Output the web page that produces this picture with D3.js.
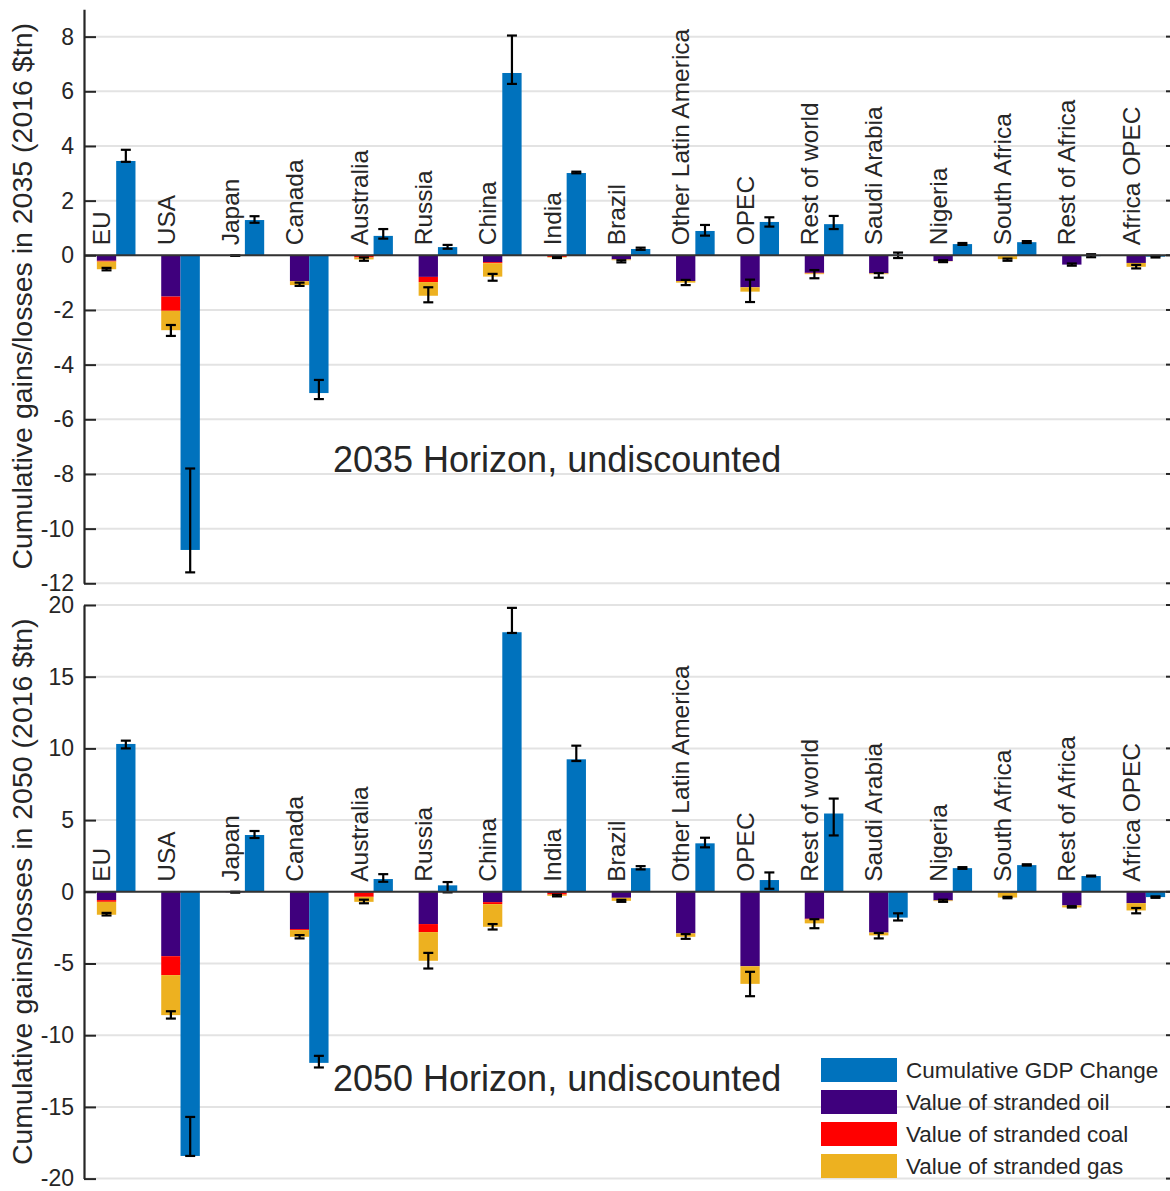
<!DOCTYPE html>
<html>
<head>
<meta charset="utf-8">
<script src="https://cdn.jsdelivr.net/npm/d3@7"></script>
<style>
  body { margin: 0; background: #fff; }
  svg { display: block; font-family: "Liberation Sans", Arial, Helvetica, sans-serif; }
</style>
</head>
<body>
<div id="chart"></div>
<script>
var categories = ["EU", "USA", "Japan", "Canada", "Australia", "Russia", "China", "India", "Brazil",
  "Other Latin America", "OPEC", "Rest of world", "Saudi Arabia", "Nigeria", "South Africa",
  "Rest of Africa", "Africa OPEC"]

// 2035 horizon ($tn, 2016)
var oil2035  = [-0.20, -1.51, -0.01, -0.94, -0.02, -0.79, -0.25, -0.02, -0.15, -0.94, -1.17, -0.64, -0.66, -0.21, -0.03, -0.34, -0.28]
var coal2035 = [-0.03, -0.52, 0, -0.01, -0.06, -0.19, -0.04, -0.04, 0, 0, 0, -0.02, 0, 0, 0, 0, 0]
var gas2035  = [-0.28, -0.71, 0, -0.14, -0.07, -0.50, -0.49, -0.02, -0.03, -0.06, -0.16, -0.03, -0.03, -0.01, -0.11, 0, -0.14]
var strandedLo2035 = [-0.46, -2.55, 0, -1.00, -0.08, -1.17, -0.68, -0.05, -0.18, -0.90, -0.89, -0.54, -0.65, -0.18, -0.12, -0.30, -0.35]
var strandedHi2035 = [-0.55, -2.95, -0.02, -1.12, -0.20, -1.72, -0.93, -0.10, -0.26, -1.09, -1.71, -0.84, -0.82, -0.25, -0.20, -0.38, -0.48]
var gdp2035   = [3.45, -10.78, 1.29, -5.04, 0.71, 0.30, 6.67, 3.01, 0.23, 0.89, 1.22, 1.14, 0.02, 0.41, 0.48, -0.03, -0.05]
var gdpLo2035 = [3.42, -7.80, 1.19, -4.56, 0.61, 0.24, 6.27, 3.00, 0.20, 0.72, 1.05, 0.96, -0.10, 0.38, 0.45, -0.07, -0.08]
var gdpHi2035 = [3.86, -11.60, 1.43, -5.26, 0.96, 0.38, 8.04, 3.06, 0.28, 1.11, 1.39, 1.44, 0.10, 0.45, 0.52, 0.04, -0.02]

// 2050 horizon
var oil2050  = [-0.58, -4.49, -0.03, -2.60, -0.05, -2.25, -0.72, -0.08, -0.42, -2.90, -5.19, -1.88, -2.84, -0.60, -0.05, -0.95, -0.79]
var coal2050 = [-0.12, -1.32, 0, -0.07, -0.30, -0.56, -0.14, -0.12, 0, 0, 0, -0.04, 0, 0, 0, 0, 0]
var gas2050  = [-0.90, -2.79, 0, -0.47, -0.35, -2.00, -1.58, -0.08, -0.21, -0.24, -1.23, -0.28, -0.20, -0.05, -0.35, -0.14, -0.51]
var strandedLo2050 = [-1.47, -8.33, 0, -3.02, -0.55, -4.26, -2.25, -0.20, -0.56, -2.95, -5.58, -1.91, -2.87, -0.55, -0.35, -1.00, -1.13]
var strandedHi2050 = [-1.65, -8.84, -0.06, -3.25, -0.80, -5.35, -2.63, -0.32, -0.70, -3.28, -7.28, -2.54, -3.25, -0.70, -0.45, -1.10, -1.50]
var gdp2050   = [10.31, -18.42, 3.96, -11.93, 0.89, 0.45, 18.10, 9.24, 1.65, 3.38, 0.82, 5.46, -1.80, 1.65, 1.86, 1.10, -0.37]
var gdpLo2050 = [10.00, -15.70, 3.75, -11.44, 0.70, -0.04, 18.05, 9.12, 1.56, 3.10, 0.21, 3.93, -1.50, 1.60, 1.83, 1.07, -0.32]
var gdpHi2050 = [10.54, -18.42, 4.24, -12.25, 1.23, 0.68, 19.80, 10.19, 1.79, 3.77, 1.35, 6.50, -2.00, 1.72, 1.92, 1.13, -0.42]

var ticks2035 = [-12, -10, -8, -6, -4, -2, 0, 2, 4, 6, 8]
var ticks2050 = [-20, -15, -10, -5, 0, 5, 10, 15, 20]

var seriesNames = ["Cumulative GDP Change", "Value of stranded oil", "Value of stranded coal", "Value of stranded gas"]
var colors = { gdp: "#0072bd", oil: "#3f007d", coal: "#ff0000", gas: "#edb120" }
var ink = "#262626"

var width = 1170, height = 1191
var svg = d3.select("#chart").append("svg")
  .attr("width", width)
  .attr("height", height)

svg.append("rect").attr("width", width).attr("height", height).attr("fill", "#fff")

var x = d3.scaleBand()
  .domain(categories)
  .range([84, 1178])
  .padding(0)

var barW = x.bandwidth() * 0.3

function panel(opts) {
  var y = d3.scaleLinear().domain(opts.domain).range(opts.range)
  var g = svg.append("g")
  var left = x.range()[0], right = x.range()[1]

  // grid
  g.append("g").selectAll("line")
    .data(opts.ticks)
    .join("line")
    .attr("x1", left).attr("x2", right)
    .attr("y1", function(d) { return y(d) }).attr("y2", function(d) { return y(d) })
    .attr("stroke", "#e3e3e3")
    .attr("stroke-width", 2)

  var rows = categories.map(function(c, i) {
    return { cat: c, oil: opts.oil[i], coal: opts.coal[i], gas: opts.gas[i] }
  })
  var stack = d3.stack().keys(["oil", "coal", "gas"]).offset(d3.stackOffsetDiverging)(rows)

  g.append("g").selectAll("g")
    .data(stack)
    .join("g")
    .attr("fill", function(s) { return colors[s.key] })
    .selectAll("rect")
    .data(function(s) { return s })
    .join("rect")
    .attr("x", function(d) { return x(d.data.cat) + x.bandwidth() / 2 - barW })
    .attr("width", barW)
    .attr("y", function(d) { return y(Math.max(d[0], d[1])) })
    .attr("height", function(d) { return Math.abs(y(d[0]) - y(d[1])) })

  g.append("g").selectAll("rect")
    .data(categories)
    .join("rect")
    .attr("fill", colors.gdp)
    .attr("x", function(c) { return x(c) + x.bandwidth() / 2 })
    .attr("width", barW)
    .attr("y", function(c, i) { return y(Math.max(0, opts.gdp[i])) })
    .attr("height", function(c, i) { return Math.abs(y(opts.gdp[i]) - y(0)) })

  // error bars
  var errs = []
  categories.forEach(function(c, i) {
    var cx = x(c) + x.bandwidth() / 2
    errs.push({ x: cx - barW / 2, lo: opts.strLo[i], hi: opts.strHi[i] })
    errs.push({ x: cx + barW / 2, lo: opts.gdpLo[i], hi: opts.gdpHi[i] })
  })
  var eb = g.append("g").attr("stroke", "#000").attr("stroke-width", 2.2)
    .selectAll("g").data(errs).join("g")
  eb.append("line")
    .attr("x1", function(d) { return d.x }).attr("x2", function(d) { return d.x })
    .attr("y1", function(d) { return y(d.lo) }).attr("y2", function(d) { return y(d.hi) })
  eb.append("line")
    .attr("x1", function(d) { return d.x - 5 }).attr("x2", function(d) { return d.x + 5 })
    .attr("y1", function(d) { return y(d.lo) }).attr("y2", function(d) { return y(d.lo) })
  eb.append("line")
    .attr("x1", function(d) { return d.x - 5 }).attr("x2", function(d) { return d.x + 5 })
    .attr("y1", function(d) { return y(d.hi) }).attr("y2", function(d) { return y(d.hi) })

  // zero line
  g.append("line")
    .attr("x1", left).attr("x2", right)
    .attr("y1", y(0)).attr("y2", y(0))
    .attr("stroke", "#333").attr("stroke-width", 2)

  // category labels
  g.append("g").selectAll("text")
    .data(categories)
    .join("text")
    .attr("transform", function(c) {
      return "translate(" + (x(c) + x.bandwidth() / 2 - 6) + "," + (y(0) - 10) + ") rotate(-90)"
    })
    .attr("font-size", 24.5)
    .attr("fill", ink)
    .text(function(c) { return c })

  // axes (plain hyphen minus like the original)
  var yl = d3.axisLeft(y).tickValues(opts.ticks).tickSize(0).tickPadding(10)
    .tickFormat(function(d) { return String(d) })
  var ax = g.append("g").attr("transform", "translate(" + left + ",0)").call(yl)
  ax.select(".domain").attr("stroke", ink).attr("stroke-width", 2.2)
  ax.selectAll("text").attr("font-size", 23).attr("fill", ink).attr("font-family", null)
  ax.selectAll(".tick").append("line")
    .attr("x2", 12).attr("stroke", ink).attr("stroke-width", 2)
  g.append("g").selectAll("line")
    .data(opts.ticks)
    .join("line")
    .attr("x1", right - 12).attr("x2", right)
    .attr("y1", function(d) { return y(d) }).attr("y2", function(d) { return y(d) })
    .attr("stroke", ink).attr("stroke-width", 2)

  g.append("text")
    .attr("transform", "translate(32," + (opts.range[0] + opts.range[1]) / 2 + ") rotate(-90)")
    .attr("text-anchor", "middle")
    .attr("font-size", 28.5)
    .attr("fill", ink)
    .text(opts.ylabel)

  g.append("text")
    .attr("x", 333)
    .attr("y", y(opts.titleAt))
    .attr("font-size", 36)
    .attr("fill", ink)
    .text(opts.title)

  return y
}

panel({
  domain: [-12, 9], range: [583.3, 9.3], ticks: ticks2035,
  oil: oil2035, coal: coal2035, gas: gas2035, strLo: strandedLo2035, strHi: strandedHi2035,
  gdp: gdp2035, gdpLo: gdpLo2035, gdpHi: gdpHi2035,
  ylabel: "Cumulative gains/losses in 2035 (2016 $tn)",
  title: "2035 Horizon, undiscounted", titleAt: -7.92
})

panel({
  domain: [-20, 20], range: [1178.6, 605], ticks: ticks2050,
  oil: oil2050, coal: coal2050, gas: gas2050, strLo: strandedLo2050, strHi: strandedHi2050,
  gdp: gdp2050, gdpLo: gdpLo2050, gdpHi: gdpHi2050,
  ylabel: "Cumulative gains/losses in 2050 (2016 $tn)",
  title: "2050 Horizon, undiscounted", titleAt: -13.9
})

// legend
var legendColors = [colors.gdp, colors.oil, colors.coal, colors.gas]
var lg = svg.append("g").attr("transform", "translate(821,1058)")
var item = lg.selectAll("g")
  .data(seriesNames)
  .join("g")
  .attr("transform", function(d, i) { return "translate(0," + i * 32 + ")" })
item.append("rect")
  .attr("width", 76).attr("height", 24)
  .attr("fill", function(d, i) { return legendColors[i] })
item.append("text")
  .attr("x", 85).attr("y", 12)
  .attr("dy", "0.35em")
  .attr("font-size", 22.5)
  .attr("fill", ink)
  .text(function(d) { return d })
</script>
</body>
</html>
